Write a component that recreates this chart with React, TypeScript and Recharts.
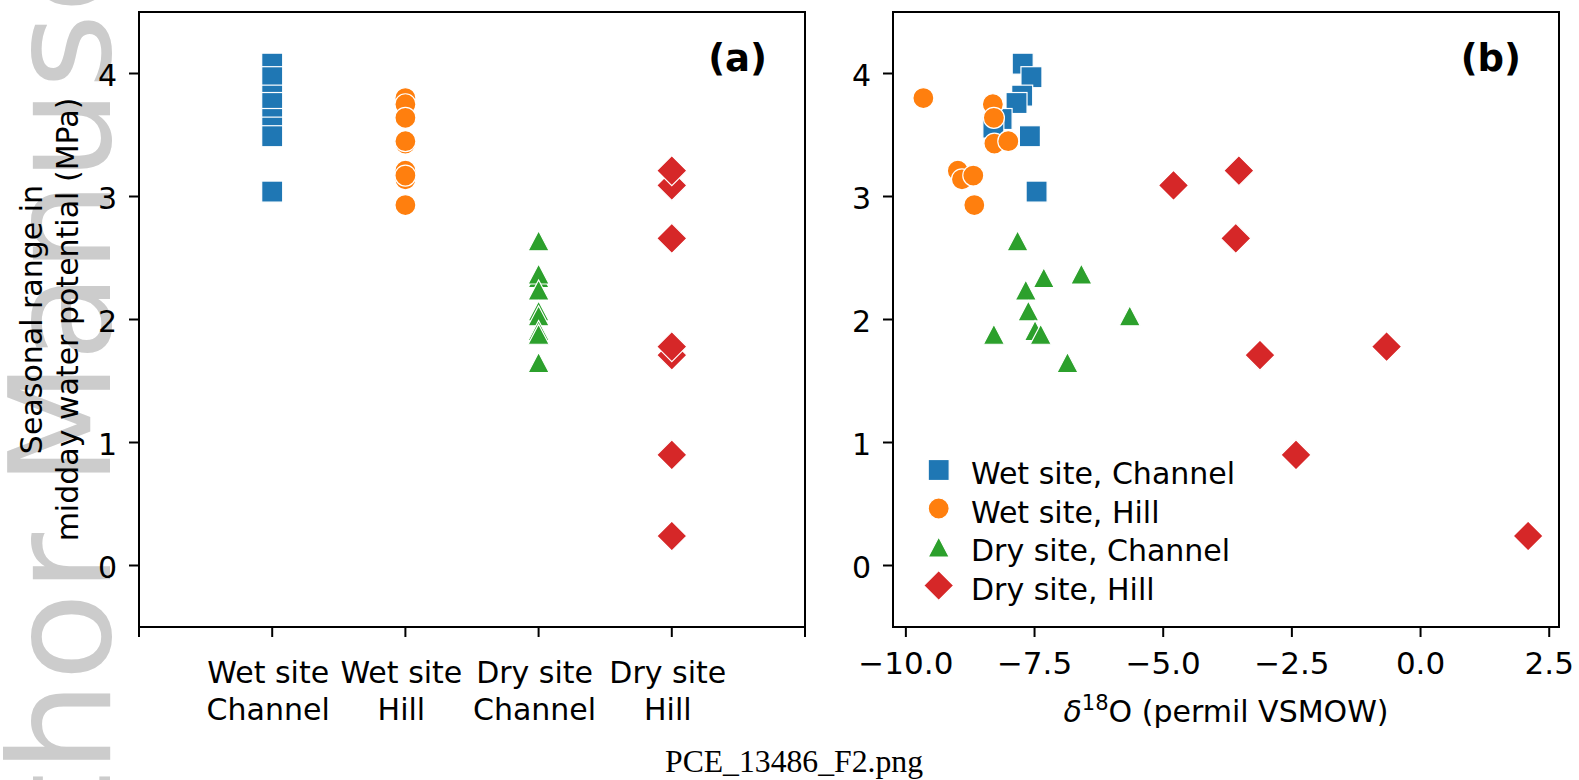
import React from "react";
import { ScatterChart, Scatter, XAxis, YAxis, ReferenceArea, Label, Legend } from "recharts";

const FONT = "'DejaVu Sans', sans-serif";

// panel (a) categories, two lines per tick label
const siteLine1 = ["Wet site", "Wet site", "Dry site", "Dry site"];
const siteLine2 = ["Channel", "Hill", "Channel", "Hill"];

const seriesNames = ["Wet site, Channel", "Wet site, Hill", "Dry site, Channel", "Dry site, Hill"];
const seriesColors = ["#1f77b4", "#ff7f0e", "#2ca02c", "#d62728"];
const seriesShapes = ["square", "circle", "triangle", "diamond"];

// seasonal range in midday water potential (MPa)
const wetChannelRange = [4.08, 3.97, 3.82, 3.76, 3.63, 3.56, 3.49, 3.04];
const wetHillRange = [3.8, 3.75, 3.64, 3.43, 3.45, 3.21, 3.14, 3.17, 2.93];
const dryChannelRange = [2.64, 2.34, 2.37, 2.24, 2.07, 2.03, 1.88, 1.91, 1.88, 1.65];
const dryHillRange = [3.09, 3.21, 2.66, 1.71, 1.78, 0.9, 0.24];

// d18O (permil VSMOW), same order as above
const wetChannelD18O = [-7.73, -7.56, -7.74, -7.85, -8.14, -8.3, -7.59, -7.46];
const wetHillD18O = [-9.66, -8.31, -8.29, -8.28, -8.01, -8.99, -8.91, -8.69, -8.67];
const dryChannelD18O = [-7.83, -7.32, -6.59, -7.67, -7.62, -5.65, -8.29, -7.49, -7.38, -6.86];
const dryHillD18O = [-4.8, -3.53, -3.59, -3.12, -0.66, -2.42, 2.09];

const yTicks = [0, 1, 2, 3, 4];
const catTicks = [-1, 0, 1, 2, 3, 4];
const isoTicks = [-10, -7.5, -5, -2.5, 0, 2.5];

const ranges = [wetChannelRange, wetHillRange, dryChannelRange, dryHillRange];
const isotopes = [wetChannelD18O, wetHillD18O, dryChannelD18O, dryHillD18O];

const series = seriesNames.map((name, i) => ({
  name,
  color: seriesColors[i],
  shape: seriesShapes[i],
  byCategory: ranges[i].map((y) => ({ x: i, y })),
  byIsotope: ranges[i].map((y, k) => ({ x: isotopes[i][k], y })),
}));

function Marker({ shape, cx, cy, color }: any) {
  const st = { fill: color, stroke: "#fff", strokeWidth: 1.2 };
  if (shape === "square") return <rect x={cx - 10.5} y={cy - 10.5} width={21} height={21} {...st} />;
  if (shape === "circle") return <circle cx={cx} cy={cy} r={10.5} {...st} />;
  if (shape === "triangle")
    return <path d={`M${cx},${cy - 10} L${cx + 10.5},${cy + 10} L${cx - 10.5},${cy + 10} Z`} {...st} />;
  return <path d={`M${cx},${cy - 15} L${cx + 15},${cy} L${cx},${cy + 15} L${cx - 15},${cy} Z`} {...st} />;
}

const YTick = ({ x, y, payload }: any) => (
  <text x={x} y={y} dy={12} textAnchor="end" fontSize={30} fontFamily={FONT} fill="#000">
    {payload.value}
  </text>
);

const CatTick = ({ x, y, payload }: any) => {
  const i = payload.value;
  if (i < 0 || i >= siteLine1.length) return <g />;
  return (
    <text textAnchor="middle" fontSize={30} fontFamily={FONT} fill="#000">
      <tspan x={x - 4} y={y + 46}>{siteLine1[i]}</tspan>
      <tspan x={x - 4} y={y + 83}>{siteLine2[i]}</tspan>
    </text>
  );
};

const fmtIso = (v: number) => (v < 0 ? "\u2212" : "") + Math.abs(v).toFixed(1);

const IsoTick = ({ x, y, payload }: any) => (
  <text x={x} y={y + 37} textAnchor="middle" fontSize={31} fontFamily={FONT} fill="#000">
    {fmtIso(payload.value)}
  </text>
);

const YLabel = (props: any) => {
  const vb = props.viewBox || { x: 0, y: 12, width: 139, height: 615 };
  const cx = vb.x + 42;
  const cy = vb.y + vb.height / 2;
  return (
    <text transform={`rotate(-90 ${cx} ${cy})`} textAnchor="middle" fontSize={30} fontFamily={FONT} fill="#000">
      <tspan x={cx} y={cy}>Seasonal range in</tspan>
      <tspan x={cx} y={cy + 36}>midday water potential (MPa)</tspan>
    </text>
  );
};

const IsoLabel = (props: any) => {
  const vb = props.viewBox || { x: 893, y: 627, width: 666, height: 153 };
  return (
    <text x={vb.x + vb.width / 2} y={vb.y + 95} textAnchor="middle" fontSize={30} fontFamily={FONT} fill="#000">
      <tspan fontStyle="italic">δ</tspan>
      <tspan dy={-12} fontSize={21}>18</tspan>
      <tspan dy={12}>O (permil VSMOW)</tspan>
    </text>
  );
};

const panelTag = (tag: string) => (props: any) => {
  const vb = props.viewBox || { x: 0, y: 12, width: 0, height: 0 };
  return (
    <text x={vb.x + vb.width - 38} y={vb.y + 59} textAnchor="end" fontWeight="bold" fontSize={37} fontFamily={FONT} fill="#000">
      {tag}
    </text>
  );
};

const LegendBox = () => (
  <svg width={340} height={160}>
    {series.map((s, i) => {
      const cy = 22 + i * 38.5;
      return (
        <g key={s.name}>
          <Marker shape={s.shape} cx={33.7} cy={cy} color={s.color} />
          <text x={66} y={cy + 14} fontSize={30} fontFamily={FONT} fill="#000">
            {s.name}
          </text>
        </g>
      );
    })}
  </svg>
);

const axisLine = { stroke: "#000", strokeWidth: 2 };

export default function App() {
  return (
    <div style={{ position: "absolute", left: 0, top: 0, width: 1579, height: 780, overflow: "hidden", background: "#fff" }}>
      <svg width={1579} height={780} style={{ position: "absolute", left: 0, top: 0 }}>
        <text
          transform="rotate(-90 110 1021)"
          x={110}
          y={1021}
          fontSize={141}
          fontFamily={FONT}
          fill="#cccccc"
          textLength={1336}
          lengthAdjust="spacingAndGlyphs"
        >
          Author Manuscript
        </text>
        <text x={665} y={772} fontSize={31} fontFamily="'Liberation Serif', serif" fill="#000" textLength={258} lengthAdjust="spacingAndGlyphs">
          PCE_13486_F2.png
        </text>
      </svg>

      <div style={{ position: "absolute", left: 0, top: 0 }}>
        <ScatterChart width={830} height={780} margin={{ top: 12, right: 25, bottom: 0, left: 0 }}>
          <XAxis
            type="number"
            dataKey="x"
            domain={[-1, 4]}
            ticks={catTicks}
            interval={0}
            allowDataOverflow
            height={153}
            tickSize={10}
            tickMargin={0}
            axisLine={axisLine}
            tickLine={axisLine}
            tick={(p: any) => <CatTick {...p} />}
          />
          <YAxis
            type="number"
            dataKey="y"
            domain={[-0.5, 4.5]}
            ticks={yTicks}
            interval={0}
            allowDataOverflow
            width={139}
            tickSize={10}
            tickMargin={12}
            axisLine={axisLine}
            tickLine={axisLine}
            tick={(p: any) => <YTick {...p} />}
            label={YLabel}
          />
          <ReferenceArea x1={-1} x2={4} y1={-0.5} y2={4.5} fill="none" stroke="#000" strokeWidth={2} ifOverflow="visible">
            <Label content={panelTag("(a)")} />
          </ReferenceArea>
          {series.map((s) => (
            <Scatter
              key={s.name}
              name={s.name}
              data={s.byCategory}
              isAnimationActive={false}
              shape={(p: any) => <Marker shape={s.shape} cx={p.cx} cy={p.cy} color={s.color} />}
            />
          ))}
        </ScatterChart>
      </div>

      <div style={{ position: "absolute", left: 760, top: 0 }}>
        <ScatterChart width={819} height={780} margin={{ top: 12, right: 20, bottom: 0, left: 0 }}>
          <XAxis
            type="number"
            dataKey="x"
            domain={[-10.25, 2.69]}
            ticks={isoTicks}
            interval={0}
            allowDataOverflow
            height={153}
            tickSize={10}
            tickMargin={0}
            axisLine={axisLine}
            tickLine={axisLine}
            tick={(p: any) => <IsoTick {...p} />}
            label={IsoLabel}
          />
          <YAxis
            type="number"
            dataKey="y"
            domain={[-0.5, 4.5]}
            ticks={yTicks}
            interval={0}
            allowDataOverflow
            width={133}
            tickSize={10}
            tickMargin={12}
            axisLine={axisLine}
            tickLine={axisLine}
            tick={(p: any) => <YTick {...p} />}
          />
          <ReferenceArea x1={-10.25} x2={2.69} y1={-0.5} y2={4.5} fill="none" stroke="#000" strokeWidth={2} ifOverflow="visible">
            <Label content={panelTag("(b)")} />
          </ReferenceArea>
          {series.map((s) => (
            <Scatter
              key={s.name}
              name={s.name}
              data={s.byIsotope}
              isAnimationActive={false}
              shape={(p: any) => <Marker shape={s.shape} cx={p.cx} cy={p.cy} color={s.color} />}
            />
          ))}
          <Legend
            layout="horizontal"
            verticalAlign="middle"
            align="center"
            wrapperStyle={{ left: 145, top: 448, width: 340, height: 160 }}
            content={() => <LegendBox />}
          />
        </ScatterChart>
      </div>
    </div>
  );
}
